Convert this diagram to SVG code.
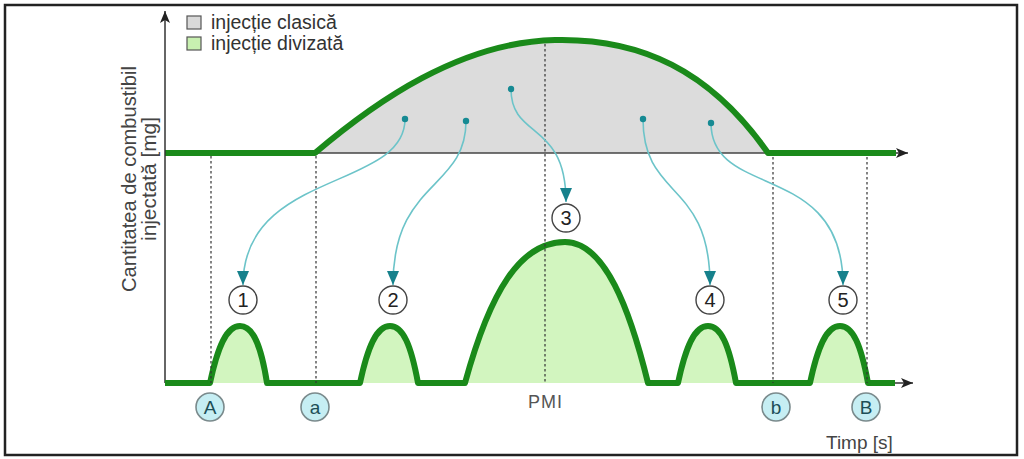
<svg xmlns="http://www.w3.org/2000/svg" width="1024" height="459" viewBox="0 0 1024 459">
<style>
  .txt { font-family: "Liberation Sans", Arial, sans-serif; }
  .green { fill: #d2f5bf; stroke: #1a8a1a; stroke-width: 6; stroke-linejoin: round; stroke-linecap: round; }
  .gline { fill: none; stroke: #1a8a1a; stroke-width: 6; stroke-linecap: butt; }
  .axis { fill: none; stroke: #333; stroke-width: 1.5; }
  .dash { fill: none; stroke: #333; stroke-width: 1.2; stroke-dasharray: 2.5 2.5; }
  .conn { fill: none; stroke: #6cc4c9; stroke-width: 1.6; }
  .dot { fill: #168a93; }
  .num circle { fill: #fff; stroke: #444; stroke-width: 1.4; }
  .num text { font-family: "Liberation Sans", Arial, sans-serif; font-size: 20px; fill: #222; text-anchor: middle; }
  .mark circle { fill: #c6eef3; stroke: #7a8a8c; stroke-width: 1.6; }
  .mark text { font-family: "Liberation Sans", Arial, sans-serif; font-size: 19px; fill: #1d4f57; text-anchor: middle; }
</style>
<defs>
  <marker id="ax" viewBox="0 0 12 10" refX="12" refY="5" markerWidth="12" markerHeight="10" markerUnits="userSpaceOnUse" orient="auto">
    <path d="M0,0 L12,5 L0,10 L3,5 z" fill="#222"/>
  </marker>
  <marker id="tip" viewBox="0 0 14 12" refX="14" refY="6" markerWidth="14" markerHeight="12" markerUnits="userSpaceOnUse" orient="auto">
    <path d="M0,0 L14,6 L0,12 z" fill="#16818c"/>
  </marker>
</defs>

<rect x="5" y="5" width="1012" height="450" fill="#fff" stroke="#222" stroke-width="2.5"/>

<g id="legend">
  <rect x="187" y="16" width="14" height="13" fill="#d9d9d9" stroke="#555" stroke-width="1.2"/>
  <text class="txt" x="211" y="29" font-size="19.5" fill="#333">injecție clasică</text>
  <rect x="187" y="37" width="14" height="13" fill="#c8f0b0" stroke="#555" stroke-width="1.2"/>
  <text class="txt" x="211" y="50" font-size="19.5" fill="#333">injecție divizată</text>
</g>

<g id="y-label">
  <text class="txt" transform="translate(136,179) rotate(-90)" font-size="20.5" fill="#444" text-anchor="middle" textLength="226" lengthAdjust="spacingAndGlyphs">Cantitatea de combustibil</text>
  <text class="txt" transform="translate(156,179) rotate(-90)" font-size="20.5" fill="#444" text-anchor="middle" textLength="124" lengthAdjust="spacingAndGlyphs">injectată [mg]</text>
</g>

<g id="classic-injection">
  <path d="M315,153 C375,102 460,42 555,40 C640,38 710,70 768,153 Z" fill="#dcdcdc" stroke="none"/>
  <line x1="315" y1="153" x2="768" y2="153" stroke="#444" stroke-width="1.5"/>
  <path class="gline" d="M165,153 L315,153 C375,102 460,42 555,40 C640,38 710,70 768,153 L896,153" stroke-linejoin="round"/>
</g>

<g id="axes">
  <line class="axis" x1="165" y1="383" x2="165" y2="11" marker-end="url(#ax)"/>
  <line class="axis" x1="896" y1="153" x2="908" y2="153" marker-end="url(#ax)"/>
  <line class="axis" x1="895" y1="383" x2="913" y2="383" marker-end="url(#ax)"/>
  <text class="txt" x="826" y="449" font-size="19" fill="#444">Timp [s]</text>
</g>

<g id="split-injection">
  <path class="gline" d="M165,383 L210,383 M267,383 L360,383 M418,383 L465,383 M648,383 L678,383 M736,383 L810,383 M868,383 L895,383"/>
  <path id="pulse1" class="green" d="M210,383 C218,345 227,326 240,326 C253,326 261,345 267,383"/>
  <path id="pulse2" class="green" d="M360,383 C368,345 377,326 390,326 C403,326 411,345 418,383"/>
  <path id="pulse3" class="green" d="M465,383 C490,292 520,242 565,242 C605,242 630,310 648,383"/>
  <path id="pulse4" class="green" d="M678,383 C686,345 695,326 708,326 C721,326 729,345 736,383"/>
  <path id="pulse5" class="green" d="M810,383 C818,345 827,326 840,326 C853,326 861,345 868,383"/>
</g>

<g id="guides">
  <line class="dash" x1="211" y1="156" x2="211" y2="383"/>
  <line class="dash" x1="316" y1="156" x2="316" y2="383"/>
  <line class="dash" x1="545" y1="44" x2="545" y2="383"/>
  <line class="dash" x1="773" y1="157" x2="773" y2="383"/>
  <line class="dash" x1="867" y1="157" x2="867" y2="383"/>
  <text class="txt" x="545.5" y="408" font-size="18" fill="#555" text-anchor="middle" letter-spacing="1">PMI</text>
</g>

<g id="connectors">
  <path class="conn" d="M405,119 C405,190 243,170 243,285" marker-end="url(#tip)"/>
  <path class="conn" d="M466,121 C466,190 393,180 393,285" marker-end="url(#tip)"/>
  <path class="conn" d="M511,89 C511,140 566,120 566,202" marker-end="url(#tip)"/>
  <path class="conn" d="M643,119 C643,200 710,180 710,285" marker-end="url(#tip)"/>
  <path class="conn" d="M711,123 C711,200 843,160 843,285" marker-end="url(#tip)"/>
  <circle class="dot" cx="405" cy="119" r="3.2"/>
  <circle class="dot" cx="466" cy="121" r="3.2"/>
  <circle class="dot" cx="511" cy="89" r="3.2"/>
  <circle class="dot" cx="643" cy="119" r="3.2"/>
  <circle class="dot" cx="711" cy="123" r="3.2"/>
</g>

<g id="n1" class="num"><circle cx="243" cy="300" r="14"/><text x="243" y="307">1</text></g>
<g id="n2" class="num"><circle cx="393" cy="300" r="14"/><text x="393" y="307">2</text></g>
<g id="n3" class="num"><circle cx="566" cy="218" r="14"/><text x="566" y="225">3</text></g>
<g id="n4" class="num"><circle cx="710" cy="300" r="14"/><text x="710" y="307">4</text></g>
<g id="n5" class="num"><circle cx="843" cy="300" r="14"/><text x="843" y="307">5</text></g>

<g id="mA" class="mark"><circle cx="210" cy="407" r="14"/><text x="210" y="414">A</text></g>
<g id="ma" class="mark"><circle cx="315" cy="407" r="14"/><text x="315" y="414">a</text></g>
<g id="mb" class="mark"><circle cx="776" cy="407" r="14"/><text x="776" y="414">b</text></g>
<g id="mB" class="mark"><circle cx="866" cy="407" r="14"/><text x="866" y="414">B</text></g>
</svg>
